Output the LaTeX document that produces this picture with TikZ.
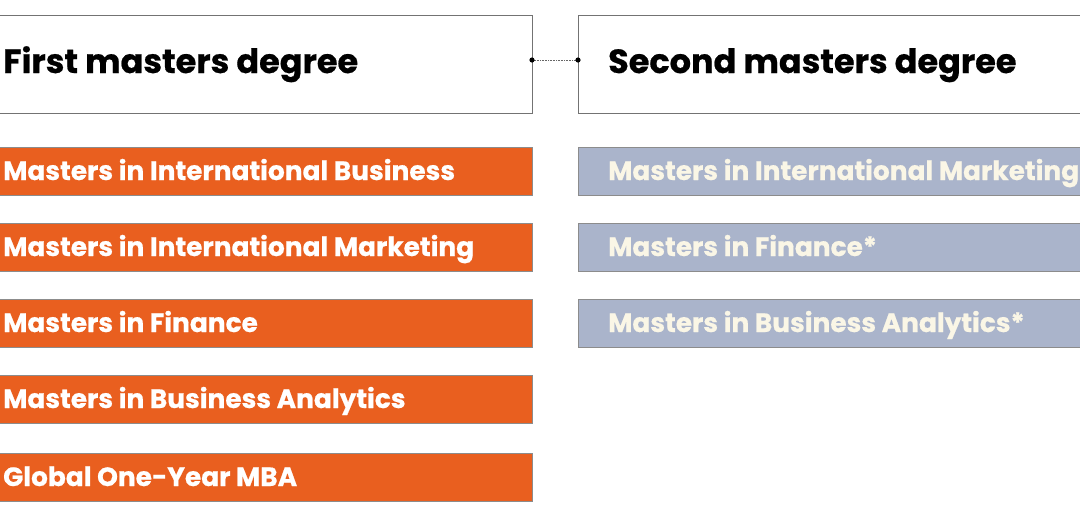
\documentclass[tikz,border=0pt]{standalone}
\usepackage{fontspec}
\setmainfont{Poppins}[FakeBold=0.6]
\begin{document}
\begin{tikzpicture}[x=1pt,y=-1pt,
 hdr/.style={draw=black!55,line width=0.8pt,fill=white},
 org/.style={draw=black!45,line width=0.6pt,fill=orange1},
 blu/.style={draw=black!45,line width=0.6pt,fill=blue1},
 ot/.style={anchor=base west,text=white,font=\bfseries\fontsize{26.4}{30}\selectfont,inner sep=0},
 bt/.style={anchor=base west,text=cream,font=\bfseries\fontsize{26.4}{30}\selectfont,inner sep=0},
 ht/.style={anchor=base west,text=black,font=\bfseries\fontsize{33.5}{38}\selectfont,inner sep=0}]
\definecolor{orange1}{HTML}{E95F1F}
\definecolor{blue1}{HTML}{AAB4CB}
\definecolor{cream}{HTML}{FAF6E6}
\useasboundingbox (0,0) rectangle (1080,512);
\draw[hdr] (-2,15) rectangle (532,113);
\draw[hdr] (578,15) rectangle (1082,113);
\node[ht] (h1) at (3,73) {First masters degree};
\node[ht] (h2) at (608,73) {Second masters degree};
\coordinate (c1) at (532,60);
\coordinate (c2) at (578,60);
\draw[densely dotted,black!60,line width=0.6pt] (c1) -- (c2);
\fill (c1) circle (2.6);
\fill (c2) circle (2.6);
\foreach \y/\t/\n in {147/Masters in International Business/a,223/Masters in International Marketing/b,299/Masters in Finance/c,375/Masters in Business Analytics/d,453/Global One-Year MBA/e}{
 \draw[org] (-2,\y) rectangle (532,\y+48);
 \node[ot] (l\n) at (3,\y+33) {\t};}
\foreach \y/\t/\n in {147/Masters in International Marketing/a,223/Masters in Finance*/b,299/Masters in Business Analytics*/c}{
 \draw[blu] (578,\y) rectangle (1082,\y+48);
 \node[bt] (r\n) at (608,\y+33) {\t};}
\end{tikzpicture}
\end{document}
